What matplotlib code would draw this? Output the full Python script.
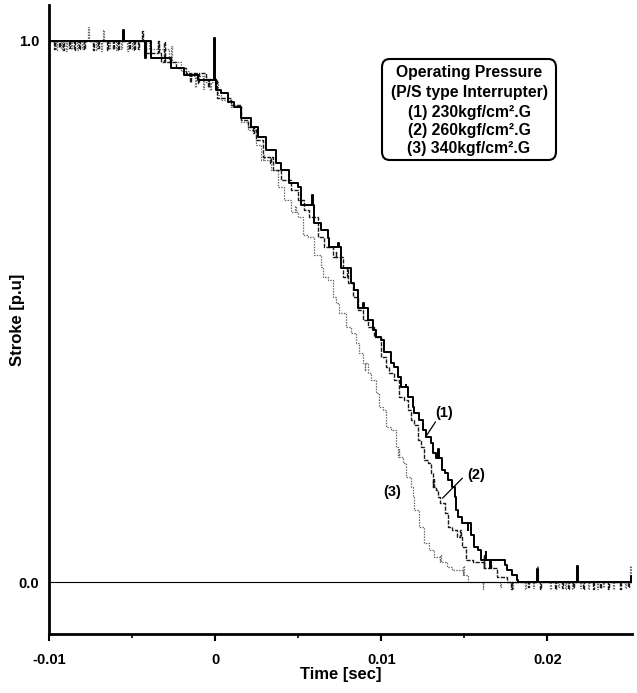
import numpy as np
import matplotlib
matplotlib.use("Agg")
import matplotlib.pyplot as plt
from matplotlib.patches import FancyBboxPatch

plt.rcParams['font.family'] = ['Liberation Sans', 'DejaVu Sans']
plt.rcParams['font.weight'] = 'bold'

# ---------------- data ----------------
# curve (1) 230 kgf/cm2.G : step break points (time [s], stroke [p.u])
t1 = [-0.0100, -0.00384, -0.00264, -0.00186, -0.00102, 0.00006, 0.00036, 0.00078, 0.00114,
      0.00156, 0.00216, 0.00258, 0.00306, 0.00366, 0.00396, 0.00444, 0.00498, 0.00517,
      0.00595, 0.00637, 0.00679, 0.00685, 0.00757, 0.00817, 0.00835, 0.00859, 0.00919,
      0.00949, 0.00967, 0.00997, 0.01015, 0.01057, 0.01075, 0.01099, 0.01117, 0.01159,
      0.01189, 0.01195, 0.01225, 0.01249, 0.01267, 0.01297, 0.01309, 0.01327, 0.01369,
      0.01387, 0.01405, 0.01429, 0.01447, 0.01453, 0.01465, 0.01489, 0.01538, 0.01556,
      0.0158, 0.01598, 0.01748, 0.0176, 0.0179, 0.0182, 0.01826, 0.0251]
s1 = [1.000, 0.969, 0.950, 0.937, 0.928, 0.909, 0.904, 0.887, 0.878,
      0.858, 0.841, 0.823, 0.799, 0.774, 0.762, 0.738, 0.730, 0.697,
      0.664, 0.651, 0.636, 0.619, 0.580, 0.553, 0.540, 0.506, 0.484,
      0.466, 0.453, 0.447, 0.425, 0.405, 0.397, 0.379, 0.360, 0.342,
      0.323, 0.312, 0.299, 0.281, 0.268, 0.257, 0.238, 0.229, 0.207,
      0.201, 0.189, 0.176, 0.157, 0.133, 0.120, 0.109, 0.087, 0.065,
      0.059, 0.041, 0.031, 0.022, 0.013, 0.004, 0.0, 0.0]
# short glitches (noise spikes / dips) on curve (1)
g1_t = [-0.00555, -0.00420, -0.00006, 0.00583, 0.00739, 0.00889, 0.01147, 0.01345,
        0.01520, 0.01628, 0.01658, 0.0194, 0.0218, 0.02502]
g1_s = [1.020, 0.969, 1.006, 0.715, 0.627, 0.516, 0.364, 0.245,
        0.096, 0.055, 0.026, 0.025, 0.030, 0.012]

# curve (2) 260 kgf/cm2.G
t2 = [-0.0100, -0.00414, -0.00324, -0.00234, -0.00174, -0.00054, 0.00012, 0.00096, 0.00156,
      0.00198, 0.00246, 0.00288, 0.00348, 0.00396, 0.00456, 0.00498, 0.00535, 0.00565,
      0.00619, 0.00655, 0.00709, 0.00769, 0.00799, 0.00829, 0.00859, 0.00889, 0.00919,
      0.00955, 0.00997, 0.01027, 0.01045, 0.01075, 0.01105, 0.01135, 0.01159, 0.01177,
      0.01195, 0.01219, 0.01237, 0.01255, 0.01279, 0.01297, 0.01309, 0.01327, 0.01345,
      0.01357, 0.01387, 0.01405, 0.01429, 0.01459, 0.01489, 0.01508, 0.0155, 0.01616,
      0.017, 0.0176, 0.0251]
s2 = [1.000, 0.978, 0.962, 0.950, 0.940, 0.930, 0.895, 0.882, 0.854,
      0.841, 0.817, 0.786, 0.762, 0.743, 0.725, 0.706, 0.688, 0.675,
      0.638, 0.619, 0.601, 0.564, 0.553, 0.527, 0.503, 0.484, 0.471,
      0.453, 0.416, 0.397, 0.386, 0.373, 0.342, 0.336, 0.318, 0.299,
      0.290, 0.262, 0.250, 0.226, 0.220, 0.201, 0.176, 0.170, 0.157,
      0.146, 0.128, 0.102, 0.096, 0.083, 0.065, 0.041, 0.037, 0.026,
      0.009, 0.0, 0.0]
g2_t = [-0.00967, -0.00937, -0.00913, -0.00877, -0.00847, -0.00817, -0.00787, -0.00733,
        -0.00703, -0.00649, -0.00613, -0.00583, -0.00517, -0.00487, -0.00463, -0.00440,
        -0.00342, -0.00306, -0.00150, -0.00100, -0.00040, 0.00228, 0.00330, 0.00725,
        0.00795, 0.01313, 0.01477, 0.01616, 0.01658, 0.01782, 0.01886, 0.01958, 0.02048,
        0.0209, 0.02126, 0.02156, 0.02216, 0.02276, 0.02318, 0.02366, 0.02438, 0.02486]
g2_s = [0.985, 0.988, 0.984, 0.987, 0.983, 0.986, 0.985, 0.984,
        0.987, 0.983, 0.986, 0.984, 0.985, 0.983, 0.986, 1.018,
        1.0, 0.998, 0.925, 0.922, 0.915, 0.83, 0.775, 0.61,
        0.58, 0.19, 0.096, 0.05, 0.031, -0.012, -0.01, -0.012, -0.013,
        -0.011, -0.012, -0.01, -0.013, -0.012, -0.011, -0.012, -0.013, -0.01]

# curve (3) 340 kgf/cm2.G
t3 = [-0.0100, -0.00396, -0.00276, -0.00204, -0.00156, -0.00054, 0.00018, 0.00036, 0.00096,
      0.00156, 0.00198, 0.00246, 0.00276, 0.00336, 0.00378, 0.00414, 0.00456, 0.00498,
      0.00529, 0.00559, 0.00595, 0.00637, 0.00649, 0.00679, 0.00709, 0.00727, 0.00745,
      0.00787, 0.00817, 0.00847, 0.00865, 0.00889, 0.00919, 0.00937, 0.00967, 0.00985,
      0.01009, 0.01027, 0.01057, 0.01087, 0.01099, 0.01129, 0.01147, 0.01177, 0.01189,
      0.01195, 0.01225, 0.01255, 0.01285, 0.01315, 0.01357, 0.01399, 0.01429, 0.01495,
      0.0152, 0.0251]
s3 = [1.000, 0.985, 0.962, 0.945, 0.935, 0.925, 0.900, 0.891, 0.878,
      0.850, 0.835, 0.808, 0.780, 0.762, 0.730, 0.706, 0.684, 0.675,
      0.641, 0.638, 0.604, 0.582, 0.564, 0.558, 0.527, 0.516, 0.497,
      0.471, 0.460, 0.442, 0.423, 0.405, 0.386, 0.373, 0.349, 0.323,
      0.318, 0.287, 0.281, 0.250, 0.231, 0.220, 0.194, 0.176, 0.157,
      0.133, 0.102, 0.072, 0.059, 0.046, 0.037, 0.028, 0.022, 0.013,
      0.0, 0.0]
g3_t = [-0.00955, -0.00925, -0.00895, -0.00865, -0.00829, -0.00799, -0.00763, -0.00715,
        -0.00685, -0.00673, -0.00637, -0.00595, -0.00565, -0.00529, -0.00499, -0.00427,
        -0.00342, -0.00264, -0.00120, -0.00070, -0.00030, 0.00290, 0.00480, 0.00900,
        0.01105, 0.01357, 0.01495, 0.0161, 0.01718, 0.0179, 0.01868, 0.01916, 0.0194,
        0.02018, 0.02066, 0.02108, 0.0215, 0.02198, 0.02246, 0.023, 0.02336, 0.02396,
        0.02468, 0.02500]
g3_s = [0.983, 0.986, 0.982, 0.985, 0.983, 0.986, 1.025, 0.984,
        0.982, 1.020, 0.985, 0.983, 0.986, 0.982, 0.985, 0.975,
        1.0, 0.99, 0.915, 0.912, 0.910, 0.79, 0.695, 0.39,
        0.245, 0.05, 0.03, -0.012, -0.01, -0.012, -0.013, -0.011, 0.03,
        -0.012, -0.01, -0.013, -0.012, -0.011, -0.012, -0.013, -0.01, -0.012,
        -0.011, 0.03]

xticks = [-0.01, 0.0, 0.01, 0.02]
xticklabels = ['-0.01', '0', '0.01', '0.02']
yticks = [0.0, 1.0]
yticklabels = ['0.0', '1.0']
legend_lines = ['Operating Pressure', '(P/S type Interrupter)',
                '(1) 230kgf/cm\u00b2.G', '(2) 260kgf/cm\u00b2.G', '(3) 340kgf/cm\u00b2.G']


def merge(t, s, gt, gs, w=0.00005):
    t = np.asarray(t, float)
    s = np.asarray(s, float)
    pts = list(zip(t, s))
    for tg, sg in zip(gt, gs):
        i = np.searchsorted(t, tg + w, side='right') - 1
        pts.append((tg, sg))
        pts.append((tg + w, s[max(i, 0)]))
    pts.sort(key=lambda p: p[0])
    a = np.array(pts)
    return a[:, 0], a[:, 1]


W, H = 637, 693
fig = plt.figure(figsize=(W / 100, H / 100), dpi=100)
ax = fig.add_axes([49 / W, (H - 634) / H, (632 - 49) / W, (634 - 5) / H])

x3, y3 = merge(t3, s3, g3_t, g3_s)
x2, y2 = merge(t2, s2, g2_t, g2_s)
x1, y1 = merge(t1, s1, g1_t, g1_s)
ax.plot(x3, y3, drawstyle='steps-post', color='#6a6a6a', lw=0.9, ls=(0, (1.2, 1.0)))
ax.plot(x2, y2, drawstyle='steps-post', color='#1a1a1a', lw=1.0, ls=(0, (3.0, 1.0)))
ax.plot(x1, y1, drawstyle='steps-post', color='black', lw=1.4)
ax.axhline(0.0, color='black', lw=0.8)

ax.set_xlim(-0.01, 0.0251)
ax.set_ylim(-0.096, 1.0665)

for sp in ['top', 'right']:
    ax.spines[sp].set_visible(False)
ax.spines['left'].set_linewidth(2.0)
ax.spines['bottom'].set_linewidth(2.0)

ax.set_xticks(xticks)
ax.set_xticklabels(xticklabels)
ax.set_xticks([-0.005, 0.005, 0.015], minor=True)
ax.set_yticks(yticks)
ax.set_yticklabels(yticklabels)
ax.tick_params(axis='x', which='major', direction='out', length=5, width=1.5,
               labelsize=10.5, pad=9)
ax.tick_params(axis='x', which='minor', direction='out', length=3, width=1.2)
ax.tick_params(axis='y', which='major', length=0, labelsize=10.5, pad=7)
for lab in ax.get_xticklabels() + ax.get_yticklabels():
    lab.set_fontweight('bold')

ax.set_xlabel('Time [sec]', fontsize=12, fontweight='bold', labelpad=0)
ax.set_ylabel('Stroke [p.u]', fontsize=12, fontweight='bold')
ax.yaxis.set_label_coords(-(49 - 25) / (632 - 49), 0.5)

# legend-like box
box = FancyBboxPatch((382 / W, 1 - 160 / H), (556 - 382) / W, (160 - 59) / H,
                     boxstyle='round,pad=0,rounding_size=0.012', transform=fig.transFigure,
                     fc='white', ec='black', lw=1.5)
fig.patches.append(box)
for txt, yy in zip(legend_lines, [72, 92, 112, 131, 149]):
    fig.text(469 / W, 1 - yy / H, txt, ha='center', va='center', fontsize=11.3,
             fontweight='bold')

# curve labels with leader lines
ax.text(0.01380, 0.313, '(1)', ha='center', va='center', fontsize=10.5, fontweight='bold')
ax.annotate('', xy=(0.01267, 0.268), xytext=(0.01327, 0.296),
            arrowprops=dict(arrowstyle='-', lw=0.9, color='black', shrinkA=0, shrinkB=0))
ax.text(0.01570, 0.198, '(2)', ha='center', va='center', fontsize=10.5, fontweight='bold')
ax.annotate('', xy=(0.01369, 0.155), xytext=(0.01489, 0.192),
            arrowprops=dict(arrowstyle='-', lw=0.9, color='black', shrinkA=0, shrinkB=0))
ax.text(0.01069, 0.166, '(3)', ha='center', va='center', fontsize=10.5, fontweight='bold')

fig.savefig('out.png', dpi=100)
